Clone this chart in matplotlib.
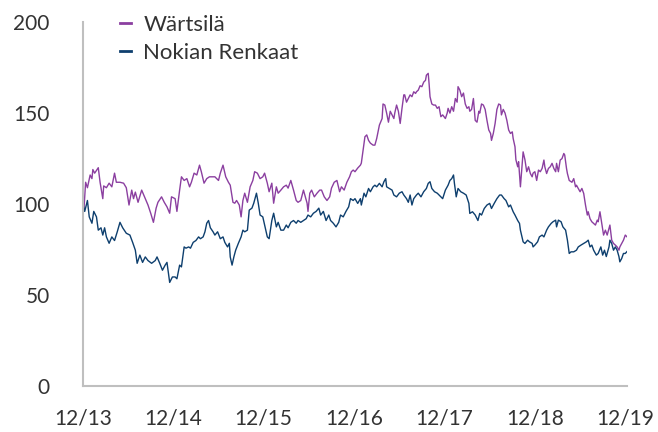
import matplotlib.pyplot as plt

# (years after 12/13, index value)
wartsila_pts = [
    (0.00, 100), (0.01, 96), (0.03, 112), (0.05, 109), (0.08, 116), (0.10, 114), (0.11, 119), (0.13, 117),
    (0.17, 120), (0.19, 112), (0.22, 103), (0.23, 110), (0.26, 109), (0.29, 111.5), (0.32, 109.5), (0.35, 117),
    (0.37, 112), (0.41, 112), (0.45, 111.5), (0.48, 109), (0.51, 99.5), (0.54, 107.7), (0.56, 103), (0.58, 106.6),
    (0.61, 101), (0.65, 107.7), (0.69, 103), (0.72, 99.5), (0.75, 95), (0.78, 90), (0.81, 97.8), (0.83, 101),
    (0.87, 104), (0.90, 101), (0.93, 98.5), (0.96, 95), (0.98, 104),
    (1.02, 103), (1.04, 96), (1.07, 107.7), (1.09, 115), (1.12, 113), (1.15, 114), (1.18, 109.5), (1.20, 112),
    (1.23, 117), (1.26, 116), (1.29, 121.4), (1.31, 117.8), (1.34, 111.5), (1.37, 114), (1.40, 115), (1.42, 115),
    (1.46, 115), (1.50, 113), (1.52, 117), (1.55, 121.4), (1.58, 115), (1.61, 112), (1.63, 110.4), (1.66, 101),
    (1.68, 100.5), (1.70, 102), (1.73, 99.5), (1.75, 93), (1.77, 102), (1.79, 106), (1.82, 101), (1.85, 109.5),
    (1.88, 113), (1.90, 117.8), (1.93, 117), (1.96, 114), (1.99, 115),
    (2.01, 117), (2.04, 111.5), (2.06, 106.8), (2.09, 111.5), (2.11, 100.5), (2.14, 109.5), (2.16, 106), (2.19, 107.7),
    (2.22, 109.5), (2.25, 110.4), (2.27, 108.8), (2.30, 113), (2.33, 107.7), (2.36, 102), (2.38, 101), (2.41, 102),
    (2.44, 107.7), (2.46, 104), (2.48, 100.5), (2.49, 96), (2.51, 106), (2.53, 107.7), (2.56, 104), (2.59, 106),
    (2.62, 107.7), (2.64, 107.7), (2.67, 104), (2.70, 102), (2.73, 104), (2.75, 108.8), (2.78, 112), (2.81, 113),
    (2.84, 106.8), (2.86, 109.5), (2.89, 107.7), (2.92, 112), (2.95, 115), (2.97, 117.8),
    (2.99, 118.7), (3.01, 117.8), (3.04, 119.8), (3.07, 121.4), (3.08, 122.5), (3.10, 129.7), (3.12, 137), (3.14, 138),
    (3.16, 135), (3.18, 133.5), (3.21, 132.4), (3.23, 132.4), (3.25, 136), (3.28, 143.4), (3.31, 147), (3.32, 155),
    (3.34, 154.4), (3.36, 150), (3.38, 145), (3.40, 151), (3.42, 149), (3.44, 147), (3.45, 150), (3.47, 154.4),
    (3.49, 151), (3.51, 144.3), (3.53, 152.6), (3.55, 160), (3.56, 160), (3.58, 156), (3.60, 158), (3.62, 160),
    (3.64, 159), (3.66, 161.7), (3.68, 160.8), (3.69, 161.7), (3.71, 162.6), (3.73, 165), (3.75, 164.5), (3.77, 167),
    (3.79, 168), (3.80, 170.8), (3.82, 171.8), (3.83, 166), (3.84, 159), (3.86, 155), (3.88, 154.4), (3.90, 154.4),
    (3.92, 152.6), (3.94, 153.5), (3.96, 148), (3.98, 149),
    (4.01, 147), (4.03, 150), (4.04, 152.6), (4.06, 150), (4.08, 153.5), (4.10, 151), (4.12, 158), (4.14, 156),
    (4.15, 164.5), (4.17, 162.6), (4.19, 159), (4.21, 161), (4.23, 155), (4.25, 152.6), (4.27, 153.5), (4.28, 151),
    (4.30, 152), (4.32, 158), (4.34, 146), (4.36, 145), (4.38, 151), (4.39, 150), (4.41, 155), (4.43, 154.4),
    (4.45, 152), (4.47, 146), (4.49, 140.7), (4.51, 138.8), (4.52, 135), (4.54, 138.8), (4.56, 144.3), (4.58, 152),
    (4.60, 155), (4.62, 154.4), (4.63, 149), (4.65, 152), (4.67, 150), (4.69, 146), (4.71, 140.7), (4.73, 138.8),
    (4.75, 139.7), (4.76, 136), (4.78, 131.5), (4.79, 124.4), (4.81, 120.5), (4.82, 123.3), (4.84, 109.5), (4.86, 122.4),
    (4.87, 128.7), (4.89, 124.4), (4.91, 117.8), (4.93, 120.5), (4.95, 116.8), (4.97, 115),
    (4.98, 117), (5.00, 117.8), (5.02, 113), (5.04, 118.7), (5.06, 117.8), (5.08, 119.6), (5.10, 124.2), (5.11, 120.5),
    (5.13, 116.8), (5.15, 119.6), (5.17, 120.5), (5.19, 122.4), (5.21, 119.6), (5.23, 117.8), (5.24, 122.4), (5.26, 117.8),
    (5.28, 124.2), (5.30, 125), (5.32, 127.8), (5.33, 127), (5.35, 119.6), (5.36, 116.8), (5.38, 113), (5.41, 112),
    (5.43, 114), (5.45, 109.5), (5.46, 110.4), (5.48, 108.6), (5.50, 106.8), (5.52, 108.6), (5.54, 105.9), (5.56, 99.5),
    (5.58, 94), (5.59, 95.8), (5.61, 92), (5.63, 90.3), (5.65, 89.4), (5.67, 88.5), (5.69, 91.2), (5.70, 90.3),
    (5.72, 95.8), (5.74, 89.4), (5.76, 83), (5.78, 85.7), (5.80, 83), (5.82, 86.6), (5.83, 88.5), (5.85, 80.2),
    (5.87, 78.4), (5.89, 77.5), (5.91, 76.5), (5.93, 74.7), (5.94, 76.5), (5.96, 78.4), (5.98, 80.2), (6.00, 83),
    (6.02, 82),
]

nokian_pts = [
    (0.00, 100), (0.02, 96), (0.05, 102), (0.07, 93), (0.10, 89.5), (0.12, 96), (0.15, 93), (0.17, 85.7),
    (0.20, 87), (0.22, 83), (0.24, 87), (0.26, 82), (0.29, 78.5), (0.32, 82), (0.35, 80), (0.38, 84.8),
    (0.41, 90), (0.44, 87), (0.48, 84), (0.52, 83), (0.55, 79), (0.58, 74.7), (0.60, 67.5), (0.63, 72),
    (0.66, 68), (0.69, 71), (0.72, 69), (0.76, 67.5), (0.80, 69), (0.82, 71), (0.85, 67.5), (0.88, 63.7),
    (0.91, 66.5), (0.93, 68), (0.96, 57), (0.99, 60),
    (1.02, 60), (1.04, 59), (1.07, 66.5), (1.09, 65.5), (1.12, 76.5), (1.14, 75.8), (1.17, 76.5), (1.19, 75.8),
    (1.22, 79), (1.25, 80), (1.28, 82), (1.30, 81), (1.33, 82), (1.35, 84.8), (1.37, 89.5), (1.39, 91),
    (1.41, 87), (1.44, 84.8), (1.46, 83), (1.49, 84.8), (1.52, 81), (1.55, 82), (1.57, 79), (1.60, 76.5),
    (1.62, 78.5), (1.63, 71), (1.65, 66.5), (1.67, 71), (1.69, 74.7), (1.72, 78.5), (1.75, 82), (1.77, 85.7),
    (1.79, 84.8), (1.82, 85.7), (1.84, 96.7), (1.87, 97.8), (1.89, 100.5), (1.92, 106), (1.94, 100.5), (1.96, 94),
    (1.99, 93),
    (2.01, 88.5), (2.04, 82), (2.06, 81), (2.09, 91), (2.11, 95), (2.14, 87.5), (2.16, 90), (2.19, 85.7),
    (2.22, 85.7), (2.25, 88.5), (2.27, 87), (2.30, 90), (2.33, 91), (2.36, 89.5), (2.38, 91), (2.41, 90),
    (2.44, 91), (2.47, 92), (2.49, 94), (2.52, 93), (2.55, 95), (2.58, 96), (2.61, 97.8), (2.63, 94),
    (2.66, 96), (2.69, 91), (2.72, 94), (2.74, 91), (2.77, 89.5), (2.80, 87.5), (2.83, 90), (2.85, 94),
    (2.88, 93), (2.91, 96), (2.94, 98.5), (2.96, 103), (2.99, 102),
    (3.01, 103), (3.04, 100.4), (3.07, 103), (3.08, 99.5), (3.11, 106), (3.13, 104), (3.16, 108.6), (3.18, 106.8),
    (3.21, 109.5), (3.23, 110.4), (3.25, 109.5), (3.28, 111.4), (3.31, 109.5), (3.33, 112.3), (3.35, 114), (3.36, 109.5),
    (3.39, 108.6), (3.42, 107.7), (3.44, 105), (3.47, 104), (3.50, 106), (3.53, 106.8), (3.55, 105), (3.58, 103),
    (3.60, 101), (3.62, 105), (3.64, 99.5), (3.66, 103), (3.69, 105), (3.71, 106), (3.74, 104), (3.77, 106.8),
    (3.80, 108.6), (3.82, 111.4), (3.84, 112.3), (3.86, 108.6), (3.89, 106.8), (3.92, 106), (3.94, 105), (3.98, 103),
    (4.01, 107.7), (4.03, 109.5), (4.04, 110.4), (4.06, 113), (4.08, 114), (4.10, 116), (4.11, 111.4), (4.13, 104),
    (4.15, 108.6), (4.18, 106.8), (4.21, 106), (4.24, 105), (4.27, 100.4), (4.28, 94.9), (4.31, 95.8), (4.34, 94),
    (4.37, 91), (4.39, 94.9), (4.41, 94), (4.44, 97.6), (4.47, 99.5), (4.50, 100.4), (4.52, 97.6), (4.55, 100.4),
    (4.58, 103), (4.61, 105), (4.63, 105), (4.66, 103), (4.68, 102), (4.71, 98.5), (4.73, 99.5), (4.76, 95.8),
    (4.78, 94), (4.81, 91), (4.83, 89.4), (4.84, 85.7), (4.87, 79.3), (4.89, 78.4), (4.92, 80.2), (4.94, 79.3),
    (4.97, 78.4),
    (4.98, 76.5), (5.00, 77.5), (5.03, 79.3), (5.05, 82), (5.08, 83), (5.10, 82), (5.13, 85.7), (5.15, 87.5),
    (5.18, 89.4), (5.20, 90.3), (5.23, 91.2), (5.24, 87.5), (5.26, 91.2), (5.29, 90.3), (5.31, 87.5), (5.34, 85.7),
    (5.36, 80.2), (5.38, 72.9), (5.40, 73.8), (5.43, 73.8), (5.46, 74.7), (5.48, 76.5), (5.51, 77.5), (5.54, 78.4),
    (5.57, 79.3), (5.59, 80.2), (5.61, 76.5), (5.63, 77.5), (5.65, 74.7), (5.68, 72), (5.70, 72.9), (5.73, 76.5),
    (5.75, 72), (5.77, 74.7), (5.79, 71.2), (5.82, 76.5), (5.83, 80.2), (5.85, 78.4), (5.87, 74.7), (5.89, 76.5),
    (5.91, 74.7), (5.93, 71.2), (5.94, 68.3), (5.96, 70.1), (5.98, 72.9), (6.00, 72.9), (6.02, 74),
]

x_labels = ["12/13", "12/14", "12/15", "12/16", "12/17", "12/18", "12/19"]
y_ticks = [0, 50, 100, 150, 200]

purple = "#8B3FA0"
blue = "#0E3F6E"

plt.rcParams['font.family'] = ['Lato', 'DejaVu Sans']

fig = plt.figure(figsize=(6.58, 4.32), dpi=100)
ax = fig.add_axes([0.126, 0.106, 0.827, 0.843])

wt, wv = zip(*wartsila_pts)
nt, nv = zip(*nokian_pts)
ax.plot(wt, wv, color=purple, lw=1.0, label="Wärtsilä")
ax.plot(nt, nv, color=blue, lw=1.0, label="Nokian Renkaat")

ax.set_xlim(0, 6.02)
ax.set_ylim(0, 200)
ax.set_xticks(range(len(x_labels)))
ax.set_xticklabels(x_labels)
ax.set_yticks(y_ticks)
ax.tick_params(axis='both', length=0, labelsize=15, colors='#333333')
ax.tick_params(axis='y', pad=24)
ax.tick_params(axis='x', pad=16)

for s in ['top', 'right']:
    ax.spines[s].set_visible(False)
for s in ['left', 'bottom']:
    ax.spines[s].set_color('#BFBFBF')
    ax.spines[s].set_linewidth(1.5)

leg = fig.legend(loc='upper left', bbox_to_anchor=(0.152, 1.012), frameon=False,
                 fontsize=16, handlelength=0.5, handletextpad=0.55, labelspacing=0.38)
for h in leg.get_lines():
    h.set_linewidth(2)
for t in leg.get_texts():
    t.set_color('#333333')

fig.savefig("out.png", dpi=100)
